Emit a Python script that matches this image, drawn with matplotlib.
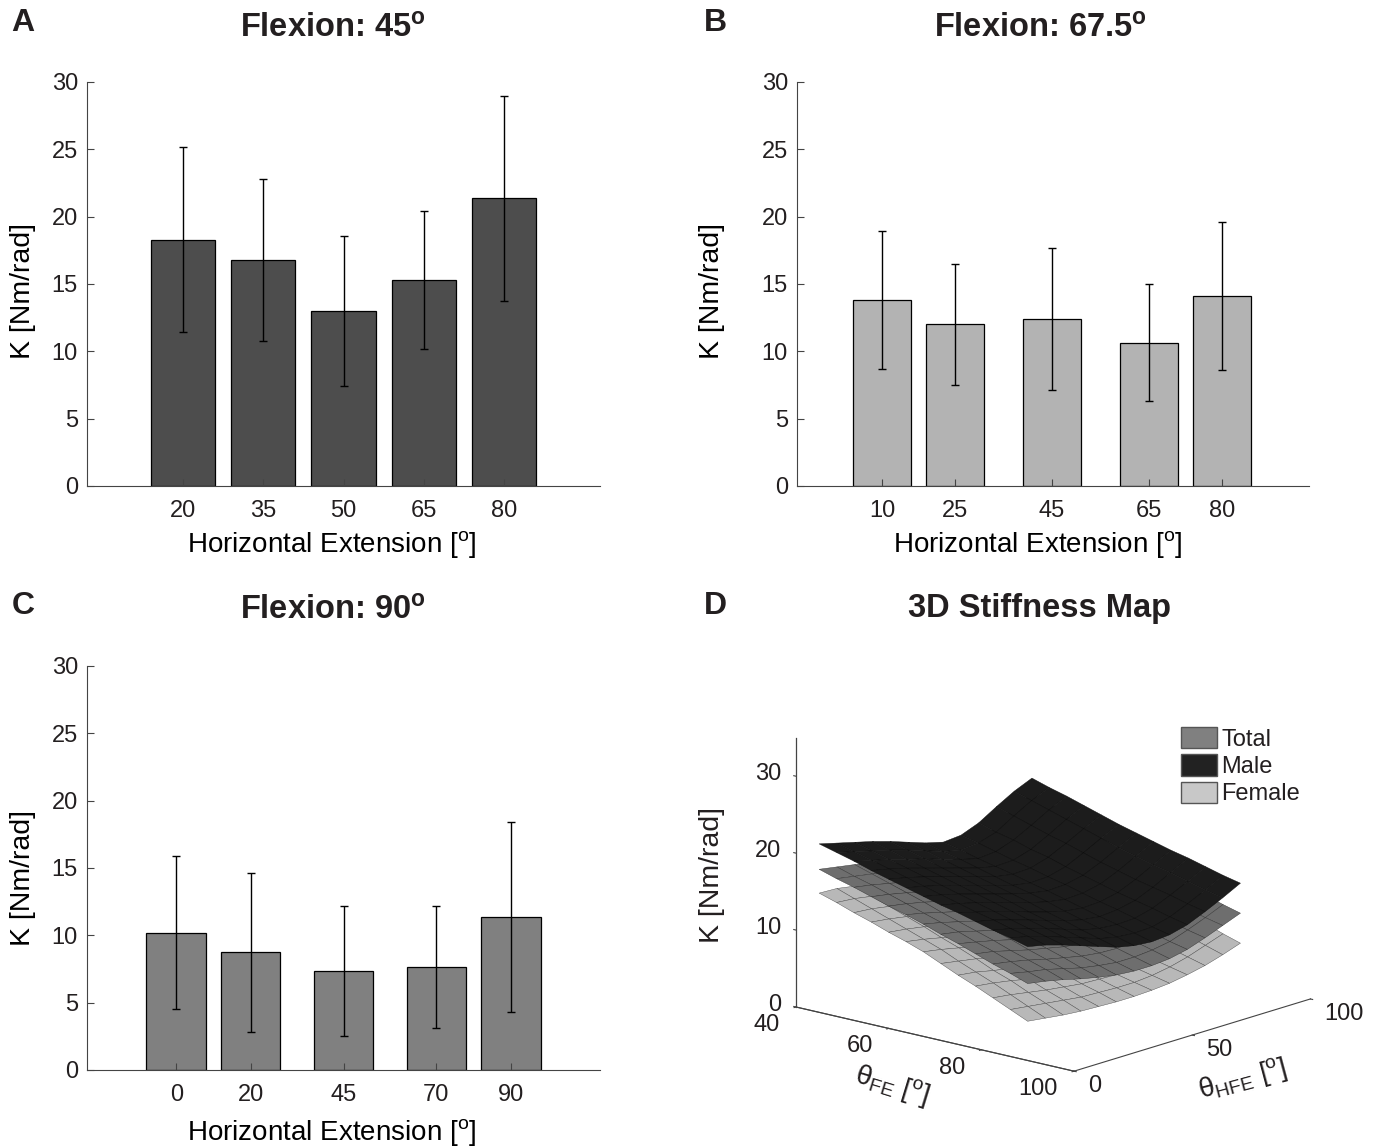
import numpy as np
import matplotlib
matplotlib.use('Agg')
import matplotlib.pyplot as plt
from matplotlib.patches import Patch
from mpl_toolkits.mplot3d import proj3d

plt.rcParams['font.family'] = ['Liberation Sans', 'DejaVu Sans']
plt.rcParams['mathtext.fontset'] = 'custom'
plt.rcParams['mathtext.rm'] = 'Liberation Sans'
plt.rcParams['mathtext.it'] = 'Liberation Sans:italic'
plt.rcParams['mathtext.bf'] = 'Liberation Sans:bold'
plt.rcParams['text.color'] = '#231f20'

W, H = 1377, 1148

# bar panels
hfe_a = [20, 35, 50, 65, 80]
k_a = [18.3, 16.8, 13.0, 15.3, 21.35]
sd_a = [6.85, 6.0, 5.6, 5.15, 7.6]

hfe_b = [10, 25, 45, 65, 80]
k_b = [13.8, 12.0, 12.4, 10.65, 14.1]
sd_b = [5.1, 4.5, 5.25, 4.35, 5.5]

hfe_c = [0, 20, 45, 70, 90]
k_c = [10.2, 8.75, 7.35, 7.65, 11.35]
sd_c = [5.7, 5.9, 4.85, 4.5, 7.05]

# surfaces, read by eye: rows are theta_FE, columns theta_HFE
fe_grid = [45, 48.75, 52.5, 56.25, 60, 63.75, 67.5, 71.25, 75, 78.75, 82.5, 86.25, 90]
hfe_grid = [0, 7.5, 15, 22.5, 30, 37.5, 45, 52.5, 60, 67.5, 75, 82.5, 90]

male = [
    [21.9, 21.3, 20.7, 20.1, 19.4, 18.6, 17.8, 17.2, 17.4, 18.3, 19.7, 21.0, 22.0],
    [21.3, 20.7, 20.1, 19.5, 18.8, 18.0, 17.2, 16.7, 16.9, 17.6, 19.0, 20.3, 21.3],
    [20.7, 20.1, 19.5, 18.8, 18.2, 17.4, 16.7, 16.1, 16.3, 17.1, 18.3, 19.6, 20.7],
    [20.0, 19.5, 18.9, 18.2, 17.5, 16.8, 16.1, 15.6, 15.7, 16.4, 17.6, 18.9, 20.0],
    [19.4, 18.9, 18.3, 17.6, 16.9, 16.2, 15.5, 15.1, 15.2, 15.9, 17.0, 18.2, 19.3],
    [18.8, 18.3, 17.7, 17.0, 16.3, 15.6, 14.9, 14.5, 14.6, 15.2, 16.3, 17.5, 18.6],
    [18.2, 17.7, 17.1, 16.4, 15.7, 15.0, 14.4, 14.0, 14.1, 14.6, 15.6, 16.8, 18.0],
    [17.6, 17.1, 16.5, 15.8, 15.1, 14.4, 13.8, 13.4, 13.5, 14.0, 15.0, 16.2, 17.4],
    [17.1, 16.5, 15.9, 15.2, 14.4, 13.7, 13.1, 12.8, 12.9, 13.4, 14.4, 15.6, 16.8],
    [16.5, 16.0, 15.3, 14.6, 13.8, 13.1, 12.5, 12.2, 12.4, 12.9, 13.9, 15.1, 16.3],
    [15.9, 15.4, 14.7, 14.0, 13.2, 12.4, 11.9, 11.7, 11.8, 12.4, 13.4, 14.5, 15.7],
    [15.4, 14.9, 14.2, 13.4, 12.6, 11.8, 11.3, 11.1, 11.2, 11.8, 12.8, 13.9, 15.1],
    [14.8, 14.3, 13.6, 12.8, 12.0, 11.2, 10.7, 10.5, 10.7, 11.3, 12.3, 13.4, 14.6],
]
total = [
    [18.6, 18.2, 17.8, 17.3, 16.6, 15.8, 15.0, 14.4, 14.6, 15.6, 17.2, 18.8, 20.0],
    [17.9, 17.5, 17.1, 16.6, 15.9, 15.2, 14.4, 13.8, 14.0, 14.9, 16.3, 17.8, 19.1],
    [17.3, 16.9, 16.4, 15.9, 15.3, 14.5, 13.8, 13.2, 13.4, 14.2, 15.5, 17.0, 18.3],
    [16.6, 16.2, 15.7, 15.1, 14.5, 13.8, 13.2, 12.7, 12.8, 13.5, 14.7, 16.0, 17.2],
    [15.9, 15.5, 15.0, 14.4, 13.8, 13.2, 12.6, 12.2, 12.2, 12.8, 13.9, 15.1, 16.3],
    [15.3, 14.8, 14.2, 13.6, 13.0, 12.4, 11.9, 11.6, 11.6, 12.1, 13.0, 14.1, 15.3],
    [14.6, 14.1, 13.5, 12.9, 12.3, 11.7, 11.3, 11.0, 11.0, 11.3, 12.1, 13.2, 14.4],
    [13.8, 13.4, 12.8, 12.2, 11.6, 11.0, 10.6, 10.4, 10.4, 10.7, 11.5, 12.6, 13.8],
    [13.1, 12.6, 12.1, 11.5, 10.9, 10.4, 10.0, 9.8, 9.9, 10.2, 11.0, 12.0, 13.2],
    [12.3, 11.9, 11.3, 10.7, 10.2, 9.7, 9.4, 9.2, 9.3, 9.7, 10.5, 11.5, 12.6],
    [11.5, 11.1, 10.6, 10.0, 9.5, 9.0, 8.7, 8.6, 8.8, 9.2, 10.0, 10.9, 12.0],
    [10.8, 10.3, 9.9, 9.3, 8.7, 8.3, 8.0, 8.0, 8.2, 8.6, 9.4, 10.3, 11.3],
    [10.0, 9.6, 9.1, 8.5, 8.0, 7.6, 7.4, 7.4, 7.6, 8.1, 8.9, 9.8, 10.7],
]
female = [
    [15.5, 15.4, 15.0, 14.6, 14.0, 13.3, 12.6, 12.1, 12.2, 13.0, 14.3, 15.7, 16.8],
    [14.8, 14.6, 14.2, 13.8, 13.2, 12.5, 11.9, 11.4, 11.5, 12.3, 13.5, 14.8, 15.9],
    [14.0, 13.8, 13.4, 13.0, 12.4, 11.8, 11.2, 10.7, 10.8, 11.5, 12.6, 13.9, 15.0],
    [13.3, 13.0, 12.6, 12.1, 11.6, 11.0, 10.5, 10.1, 10.2, 10.8, 11.8, 13.0, 14.0],
    [12.5, 12.2, 11.8, 11.3, 10.8, 10.3, 9.8, 9.5, 9.5, 10.1, 11.0, 12.0, 13.1],
    [11.8, 11.4, 10.9, 10.4, 9.9, 9.5, 9.1, 8.8, 8.9, 9.3, 10.1, 11.1, 12.1],
    [11.0, 10.6, 10.1, 9.6, 9.1, 8.7, 8.3, 8.1, 8.2, 8.5, 9.2, 10.2, 11.2],
    [10.0, 9.6, 9.2, 8.7, 8.2, 7.8, 7.5, 7.3, 7.4, 7.8, 8.5, 9.5, 10.5],
    [9.0, 8.7, 8.2, 7.8, 7.4, 7.0, 6.7, 6.6, 6.7, 7.1, 7.9, 8.8, 9.8],
    [8.1, 7.8, 7.4, 6.9, 6.6, 6.2, 6.0, 5.9, 6.1, 6.5, 7.2, 8.1, 9.1],
    [7.1, 6.8, 6.4, 6.0, 5.7, 5.4, 5.3, 5.2, 5.4, 5.8, 6.5, 7.4, 8.3],
    [6.1, 5.8, 5.5, 5.2, 4.9, 4.8, 4.7, 4.7, 4.9, 5.3, 5.9, 6.7, 7.5],
    [5.1, 4.8, 4.5, 4.3, 4.2, 4.1, 4.1, 4.2, 4.4, 4.8, 5.3, 6.0, 6.8],
]

fe_ticks = [40, 60, 80, 100]
hfe_ticks = [0, 50, 100]
k_ticks = [0, 10, 20, 30]

fig = plt.figure(figsize=(W / 100, H / 100), dpi=100)


def fx(x):
    return x / W


def fy(y):
    return 1 - y / H


def bar_panel(left, top, right, bottom, xs, ks, sds, color, width, xlim, xlab_px, ylab_px):
    ax = fig.add_axes([fx(left), fy(bottom), (right - left) / W, (bottom - top) / H])
    ax.bar(xs, ks, width=width, color=color, edgecolor='black', linewidth=0.9)
    ax.errorbar(xs, ks, yerr=sds, fmt='none', ecolor='black', elinewidth=1, capsize=3, capthick=1)
    ax.set_xlim(xlim)
    ax.set_ylim(0, 30)
    ax.set_xticks(xs)
    ax.set_yticks([0, 5, 10, 15, 20, 25, 30])
    ax.spines['top'].set_visible(False)
    ax.spines['right'].set_visible(False)
    ax.spines['left'].set_color('#444444')
    ax.spines['bottom'].set_color('#444444')
    ax.tick_params(direction='in', length=5, width=0.8, color='#444444', labelsize=17, labelcolor='#231f20')
    ax.tick_params(axis='x', pad=10)
    ax.tick_params(axis='y', pad=6.5)
    ax.set_xlabel('Horizontal Extension [$^{\\mathrm{o}}$]', fontsize=20, va='center')
    ax.set_ylabel('K [Nm/rad]', fontsize=20.5, va='center')
    ax.xaxis.set_label_coords((xlab_px[0] - left) / (right - left), (bottom - xlab_px[1]) / (bottom - top))
    ax.yaxis.set_label_coords((ylab_px[0] - left) / (right - left), (bottom - ylab_px[1]) / (bottom - top))
    return ax


bar_panel(87, 82, 600, 486, hfe_a, k_a, sd_a, '#4d4d4d', 12, (2, 98), (332, 545), (23, 291))
bar_panel(797, 82, 1309, 486, hfe_b, k_b, sd_b, '#b3b3b3', 12, (-7.5, 98), (1038, 545), (712, 291))
bar_panel(87, 666, 600, 1070, hfe_c, k_c, sd_c, '#808080', 16, (-24, 114), (332, 1133), (23, 878))

# titles and panel letters
fig.text(fx(333), fy(29), 'Flexion: 45$^{\\mathbf{o}}$', fontsize=23.5, fontweight='bold', ha='center', va='center')
fig.text(fx(1040), fy(29), 'Flexion: 67.5$^{\\mathbf{o}}$', fontsize=23.5, fontweight='bold', ha='center', va='center')
fig.text(fx(333), fy(611), 'Flexion: 90$^{\\mathbf{o}}$', fontsize=23.5, fontweight='bold', ha='center', va='center')
fig.text(fx(1040), fy(608), '3D Stiffness Map', fontsize=23.5, fontweight='bold', ha='center', va='center')
for letter, x, y in [('A', 23, 23), ('B', 715, 23), ('C', 23, 606), ('D', 715, 606)]:
    fig.text(fx(x), fy(y), letter, fontsize=23, fontweight='bold', ha='center', va='center')

# panel D
ax3 = fig.add_axes([fx(780), fy(1180), 600 / W, 600 / H], projection='3d', computed_zorder=False)
ax3.patch.set_alpha(0)
ax3.set_proj_type('ortho')
ax3.view_init(elev=15.4, azim=-49)
ax3.set_box_aspect((368, 360, 279), zoom=1.0)

FE, HFE = np.meshgrid(fe_grid, hfe_grid, indexing='ij')
ax3.plot_surface(FE, HFE, np.array(female), color='#b8b8b8', edgecolor='#4a4a4a', linewidth=0.3, shade=False, zorder=1)
ax3.plot_surface(FE, HFE, np.array(total), color='#6e6e6e', edgecolor='#303030', linewidth=0.3, shade=False, zorder=2)
ax3.plot_surface(FE, HFE, np.array(male), color='#1c1c1c', edgecolor='#0a0a0a', linewidth=0.3, shade=False, zorder=3)

ax3.set_xlim(40, 100)
ax3.set_ylim(0, 100)
ax3.set_zlim(0, 35)
ax3.set_xticks(fe_ticks)
ax3.set_yticks(hfe_ticks)
ax3.set_zticks(k_ticks)
ax3.set_xticklabels([])
ax3.set_yticklabels([])
ax3.set_zticklabels([])
ax3.grid(False)
ax3.zaxis._axinfo['juggled'] = (1, 0, 2)
for axis in (ax3.xaxis, ax3.yaxis, ax3.zaxis):
    axis.set_pane_color((1, 1, 1, 0))
    axis.pane.set_edgecolor((1, 1, 1, 0))
    axis.line.set_color('#444444')
    axis.line.set_linewidth(0.8)
    axis._axinfo['tick']['inward_factor'] = 0.1
    axis._axinfo['tick']['outward_factor'] = 0.0
ax3.zaxis._axinfo['tick']['inward_factor'] = 0.0
ax3.zaxis._axinfo['tick']['outward_factor'] = 0.1
ax3.tick_params(color='#444444', width=0.8)
ax3.plot([40, 40], [0, 0], [0, 35], color='#444444', linewidth=0.9, zorder=0)

# line the 3D box up with the pixel positions of the reference
fig.canvas.draw()


def box_px(x, y, z):
    px, py, _ = proj3d.proj_transform(x, y, z, ax3.get_proj())
    return ax3.transData.transform((px, py))


p0 = box_px(40, 0, 0)
p1 = box_px(100, 0, 0)
ax3.set_box_aspect((368, 360, 279), zoom=278 / abs(p1[0] - p0[0]))
fig.canvas.draw()
p0 = box_px(40, 0, 0)
pos = ax3.get_position()
ax3.set_position([pos.x0 + (796 - p0[0]) / W, pos.y0 + ((H - 1007) - p0[1]) / H, pos.width, pos.height])
fig.canvas.draw()

# tick labels of the 3D axes, offset from their ticks
for v in fe_ticks:
    p = box_px(v, 0, 0)
    fig.text((p[0] - 16) / W, (p[1] - 18) / H, str(v), fontsize=17, ha='right', va='center')
for v in hfe_ticks:
    p = box_px(100, v, 0)
    fig.text((p[0] + 14) / W, (p[1] - 15) / H, str(v), fontsize=17, ha='left', va='center')
for v in k_ticks:
    p = box_px(40, 0, v)
    fig.text((p[0] - 15) / W, (p[1] + 2) / H, str(v), fontsize=17, ha='right', va='center')

fig.text(fx(712), fy(875), 'K [Nm/rad]', fontsize=20.5, rotation=90, ha='center', va='center')
fig.text(fx(892), fy(1085), '$\\mathrm{\\theta}_{\\mathrm{FE}}$ [$^{\\mathrm{o}}$]', fontsize=20, rotation=-17, ha='center', va='center')
fig.text(fx(1243), fy(1079), '$\\mathrm{\\theta}_{\\mathrm{HFE}}$ [$^{\\mathrm{o}}$]', fontsize=20, rotation=15, ha='center', va='center')

handles = [Patch(facecolor='#808080', edgecolor='#555555', label='Total'),
           Patch(facecolor='#222222', edgecolor='#555555', label='Male'),
           Patch(facecolor='#c8c8c8', edgecolor='#555555', label='Female')]
fig.legend(handles=handles, loc='upper left', bbox_to_anchor=(fx(1181), fy(727)), frameon=False, fontsize=17,
           borderpad=0, borderaxespad=0, handlelength=1.53, handleheight=1.02, handletextpad=0.17, labelspacing=0.15)

fig.savefig('out.png', dpi=100)
